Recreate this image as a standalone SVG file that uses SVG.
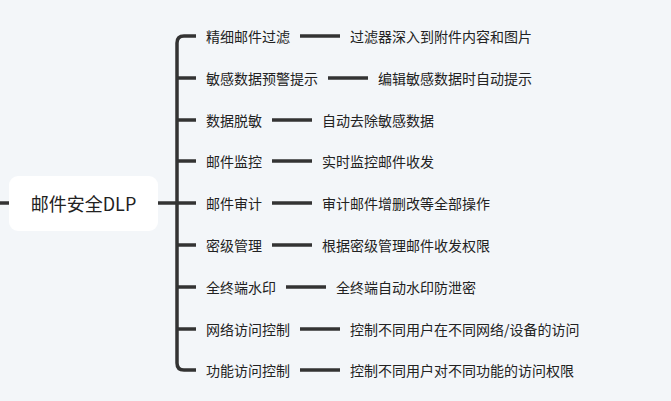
<svg xmlns="http://www.w3.org/2000/svg" width="671" height="401" viewBox="0 0 671 401">
<style>
.ln{stroke:#333;stroke-width:3.5;fill:none;stroke-linecap:butt}
.t{font-family:"Noto Sans CJK SC","Microsoft YaHei",sans-serif;font-size:14px;fill:#222;dominant-baseline:central}
.root{font-family:"Noto Sans CJK SC","Microsoft YaHei",sans-serif;font-size:18px;fill:#222;dominant-baseline:central;text-anchor:middle}
</style>
<rect width="671" height="401" fill="#f3f6f9"/>
<g id="connectors">
<line class="ln" x1="0" y1="203" x2="9" y2="203"/>
<line class="ln" x1="157" y1="203" x2="196" y2="203"/>
<path class="ln" d="M196,36 H184 Q177,36 177,43 V363 Q177,370 184,370 H196"/>
<line class="ln" x1="177" y1="78" x2="196" y2="78"/>
<line class="ln" x1="177" y1="120" x2="196" y2="120"/>
<line class="ln" x1="177" y1="161" x2="196" y2="161"/>
<line class="ln" x1="177" y1="245" x2="196" y2="245"/>
<line class="ln" x1="177" y1="287" x2="196" y2="287"/>
<line class="ln" x1="177" y1="329" x2="196" y2="329"/>
<line class="ln" x1="300" y1="36" x2="340" y2="36"/>
<line class="ln" x1="328" y1="78" x2="368" y2="78"/>
<line class="ln" x1="272" y1="120" x2="312" y2="120"/>
<line class="ln" x1="272" y1="161" x2="312" y2="161"/>
<line class="ln" x1="272" y1="203" x2="312" y2="203"/>
<line class="ln" x1="272" y1="245" x2="312" y2="245"/>
<line class="ln" x1="286" y1="287" x2="326" y2="287"/>
<line class="ln" x1="300" y1="329" x2="340" y2="329"/>
<line class="ln" x1="300" y1="370" x2="340" y2="370"/>
</g>
<g id="root">
<rect x="9" y="176" width="149" height="55" rx="9" fill="#ffffff"/>
<text class="root" x="83.5" y="203">邮件安全DLP</text>
</g>
<g id="n1"><text class="t" x="206" y="36">精细邮件过滤</text></g>
<g id="n1a"><text class="t" x="350" y="36">过滤器深入到附件内容和图片</text></g>
<g id="n2"><text class="t" x="206" y="78">敏感数据预警提示</text></g>
<g id="n2a"><text class="t" x="378" y="78">编辑敏感数据时自动提示</text></g>
<g id="n3"><text class="t" x="206" y="120">数据脱敏</text></g>
<g id="n3a"><text class="t" x="322" y="120">自动去除敏感数据</text></g>
<g id="n4"><text class="t" x="206" y="161">邮件监控</text></g>
<g id="n4a"><text class="t" x="322" y="161">实时监控邮件收发</text></g>
<g id="n5"><text class="t" x="206" y="203">邮件审计</text></g>
<g id="n5a"><text class="t" x="322" y="203">审计邮件增删改等全部操作</text></g>
<g id="n6"><text class="t" x="206" y="245">密级管理</text></g>
<g id="n6a"><text class="t" x="322" y="245">根据密级管理邮件收发权限</text></g>
<g id="n7"><text class="t" x="206" y="287">全终端水印</text></g>
<g id="n7a"><text class="t" x="336" y="287">全终端自动水印防泄密</text></g>
<g id="n8"><text class="t" x="206" y="329">网络访问控制</text></g>
<g id="n8a"><text class="t" x="350" y="329">控制不同用户在不同网络/设备的访问</text></g>
<g id="n9"><text class="t" x="206" y="370">功能访问控制</text></g>
<g id="n9a"><text class="t" x="350" y="370">控制不同用户对不同功能的访问权限</text></g>
</svg>
